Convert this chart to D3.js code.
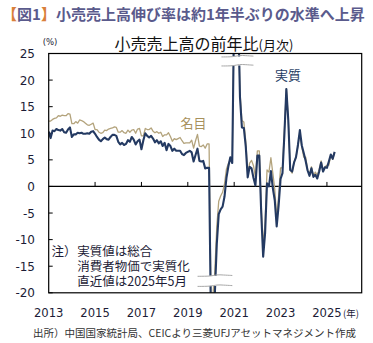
<!DOCTYPE html>
<html><head><meta charset="utf-8">
<script src="https://cdn.jsdelivr.net/npm/d3@7"></script>
<style>
html,body{margin:0;padding:0;background:#fff;}
svg{display:block;}
</style></head>
<body>
<svg id="c" width="373" height="343"></svg>
<script>
// ---- data ----
const startYear = 2013; // first month: Jan 2013, monthly
const nominal = [
 12.3,12.3,12.6,12.8,12.9,13.3,13.2,13.4,13.3,13.3,13.7,13.6,
 11.8,11.8,12.2,11.9,12.5,12.4,12.2,11.9,11.6,11.5,11.7,11.9,
 10.7,10.7,10.2,10.0,10.1,10.6,10.5,10.8,10.9,11.0,11.2,11.1,
 10.2,10.2,10.5,10.1,10.0,10.6,10.2,10.6,10.7,10.0,10.8,10.9,
 9.5,9.5,10.9,10.7,10.7,11.0,10.4,10.1,10.3,10.0,10.2,9.4,
 9.7,9.7,10.1,9.4,8.5,9.0,8.8,9.0,9.2,8.6,8.1,8.2,
 8.2,8.2,8.7,7.2,8.6,9.8,7.6,7.5,7.8,7.2,8.0,8.0,
 -20.5,-20.5,-15.8,-7.5,-2.8,-1.8,-1.1,0.5,3.3,4.3,5.0,4.6,
 33.8,33.8,34.2,17.7,12.4,12.1,8.5,2.5,4.4,4.9,3.9,1.7,
 6.7,6.7,-3.5,-11.1,-6.7,3.1,2.7,5.4,2.5,-0.5,-5.9,-1.8,
 3.5,3.5,10.6,18.4,12.7,3.1,2.5,4.6,5.5,7.6,10.1,7.4,
 5.5,5.5,3.1,2.3,3.7,2.0,2.7,2.1,3.2,4.8,3.0,3.7,
 4.0,4.0,5.9,5.1,6.4
];
const real = [
 10.3,9.1,10.5,10.4,10.8,10.6,10.5,10.8,10.2,10.1,10.7,11.1,
 9.3,9.8,9.8,10.1,10.0,10.1,9.9,9.9,10.0,9.9,10.3,10.4,
 9.9,9.3,8.8,8.5,8.9,9.2,8.9,8.8,9.3,9.7,9.7,9.5,
 8.4,7.9,8.2,7.8,8.0,8.7,8.4,9.3,8.8,7.9,8.5,8.8,
 7.0,8.7,10.0,9.5,9.2,9.5,9.0,8.3,8.7,8.1,8.5,7.6,
 8.2,6.8,8.0,7.6,6.7,7.1,6.7,6.7,6.7,6.1,5.9,6.3,
 6.5,6.7,6.4,4.7,5.9,7.1,4.8,4.7,4.8,3.4,3.5,3.5,
 -25.9,-25.7,-20.1,-10.8,-5.2,-4.3,-3.8,-1.9,1.6,3.8,5.5,4.4,
 34.1,34.0,33.8,16.8,11.1,11.0,7.5,1.7,3.7,3.4,1.6,0.2,
 5.8,5.8,-5.0,-13.2,-8.8,0.6,0.0,2.9,-0.3,-2.6,-7.5,-3.6,
 1.4,2.5,9.9,18.3,12.5,3.1,2.8,4.5,5.5,7.8,10.6,7.7,
 6.3,4.8,3.0,2.0,3.4,1.8,2.2,1.5,2.8,4.5,2.8,3.6,
 3.5,4.7,6.0,5.2,6.5
];
const yTicks = [25,20,15,10,5,0,-5,-10,-15,-20];
const xTicks = [2013,2015,2017,2019,2021,2023,2025];
const noteLines = ["実質値は総合","消費者物価で実質化","直近値は2025年5月"];
// break marks (data units): [x0, x1, yUpper, yLower]
const breakTop = [2020.45, 2021.83, 24.45, 22.75];
const breakBot = [2019.42, 2020.92, -16.8, -18.7];

// ---- layout ----
const svg = d3.select("#c");
const L = 48.7, R = 361.7, T = 53.5, B = 292.8;
const x = d3.scaleLinear().domain([2013, 2026.5]).range([L, R]);
const y = d3.scaleLinear().domain([-20, 25]).range([B, T]);
const jp = '"Noto Sans CJK JP", sans-serif';
const num = '"DejaVu Sans", Verdana, sans-serif';
const textCol = "#1c1c36";

// header
const hdr = svg.append("text").attr("x", 2).attr("y", 20)
  .attr("font-family", jp).attr("font-size", 15).attr("font-weight", "bold").attr("fill", "#5a5a8c");
hdr.append("tspan").attr("fill", "#d9803a").text("【");
hdr.append("tspan").text("図1");
hdr.append("tspan").attr("fill", "#d9803a").text("】");
hdr.append("tspan").text("小売売上高伸び率は約1年半ぶりの水準へ上昇");

// title
const ttl = svg.append("text").attr("x", 204).attr("y", 49.5).attr("text-anchor", "middle")
  .attr("font-family", jp).attr("fill", "#111");
ttl.append("tspan").attr("font-size", 16).text("小売売上高の前年比");
ttl.append("tspan").attr("font-size", 13).text("(月次)");

svg.append("text").attr("x", 50).attr("y", 45).attr("text-anchor", "middle")
  .attr("font-family", num).attr("font-size", 8.5).attr("fill", textCol).text("(%)");

// clip
svg.append("clipPath").attr("id", "pc").append("rect")
  .attr("x", L).attr("y", T).attr("width", R - L).attr("height", B - T);

// y ticks & labels
svg.append("g").selectAll("text").data(yTicks).join("text")
  .attr("x", 35).attr("y", d => y(d) + 4.5).attr("text-anchor", "end")
  .attr("font-family", num).attr("font-size", 12).attr("fill", textCol).text(d => d);
svg.append("g").selectAll("line").data(yTicks).join("line")
  .attr("x1", L).attr("x2", L + 4).attr("y1", d => y(d)).attr("y2", d => y(d))
  .attr("stroke", "#000").attr("stroke-width", 1);

// x labels
svg.append("g").selectAll("text").data(xTicks).join("text")
  .attr("x", d => x(d)).attr("y", 317).attr("text-anchor", "middle")
  .attr("font-family", num).attr("font-size", 11.6).attr("fill", textCol).text(d => d);
svg.append("text").attr("x", x(2025) + 16).attr("y", 316.5)
  .attr("font-family", jp).attr("font-size", 9.5).attr("fill", textCol).text("(年)");

// zero line and x ticks
svg.append("line").attr("x1", L).attr("x2", R).attr("y1", y(0)).attr("y2", y(0))
  .attr("stroke", "#000").attr("stroke-width", 1.2);
svg.append("g").selectAll("line").data(xTicks.slice(1)).join("line")
  .attr("x1", d => x(d)).attr("x2", d => x(d)).attr("y1", y(0)).attr("y2", y(0) - 4.5)
  .attr("stroke", "#000").attr("stroke-width", 1);

// lines
const line = d3.line().x((d, i) => x(startYear + i / 12)).y(d => y(d));
const g = svg.append("g").attr("clip-path", "url(#pc)");
g.append("path").datum(nominal).attr("d", line).attr("fill", "none")
  .attr("stroke", "#b3a37c").attr("stroke-width", 1.3).attr("stroke-linejoin", "round");
g.append("path").datum(real).attr("d", line).attr("fill", "none")
  .attr("stroke", "#243a62").attr("stroke-width", 2.1).attr("stroke-linejoin", "round");

// break marks
function drawBreak(b) {
  const [x0, x1, yu, yl] = b;
  svg.append("rect").attr("x", x(x0)).attr("y", y(yu)).attr("width", x(x1) - x(x0))
    .attr("height", y(yl) - y(yu)).attr("fill", "#fff");
  const wave = d3.line().curve(d3.curveBasis);
  [yu, yl].forEach(v => {
    const yy = y(v), xa = x(x0), xb = x(x1), m = (xa + xb) / 2;
    svg.append("path").attr("d", wave([[xa, yy + 0.5], [m - 4, yy + 0.5], [m + 2, yy - 1.2], [m + 8, yy - 0.8], [xb, yy - 0.3]]))
      .attr("fill", "none").attr("stroke", "#a8a8a8").attr("stroke-width", 1);
  });
}
drawBreak(breakTop);
drawBreak(breakBot);

// frame
svg.append("rect").attr("x", L).attr("y", T).attr("width", R - L).attr("height", B - T)
  .attr("fill", "none").attr("stroke", "#000").attr("stroke-width", 1.2);

// series labels
svg.append("text").attr("x", 180.5).attr("y", 127.5).attr("font-family", jp).attr("font-size", 13)
  .attr("fill", "#a8915c").text("名目");
svg.append("text").attr("x", 275).attr("y", 79.5).attr("font-family", jp).attr("font-size", 13)
  .attr("fill", "#243a62").text("実質");

// note (single text block)
const note = svg.append("text").attr("y", 255.5).attr("font-family", jp).attr("font-size", 12.5)
  .attr("fill", textCol);
note.append("tspan").attr("x", 51.5).text("注）");
note.selectAll("tspan.l").data(noteLines).join("tspan").attr("class", "l")
  .attr("x", 77.3).attr("y", (d, i) => 255.5 + i * 15).text(d => d);

// source
svg.append("text").attr("x", 33).attr("y", 337).attr("font-family", jp).attr("font-size", 10.5)
  .attr("fill", "#333").text("出所）中国国家統計局、CEICより三菱UFJアセットマネジメント作成");
</script>
</body></html>
